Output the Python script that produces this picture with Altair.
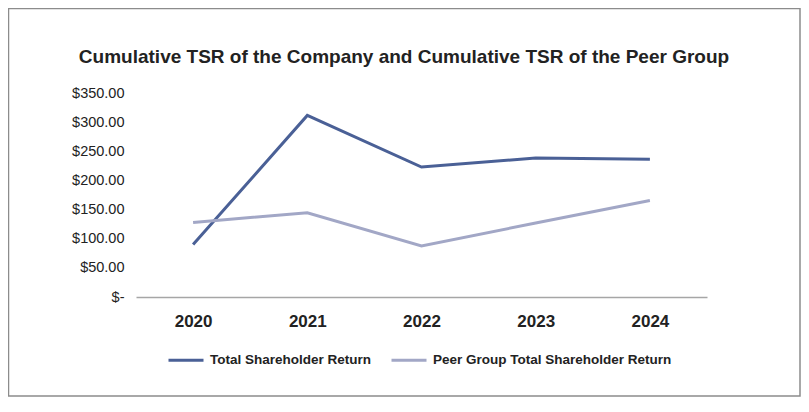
import altair as alt
import pandas as pd

years = ["2020", "2021", "2022", "2023", "2024"]
total_tsr = [90.0, 311.5, 223.0, 238.5, 236.5]
peer_tsr = [128.0, 144.5, 87.5, 127.0, 165.5]
series_names = ["Total Shareholder Return", "Peer Group Total Shareholder Return"]
series_colors = ["#4a6096", "#a2a7c6"]
chart_title = "Cumulative TSR of the Company and Cumulative TSR of the Peer Group"

rows = []
for y, t, p in zip(years, total_tsr, peer_tsr):
    rows.append({"Year": y, "Series": series_names[0], "Value": t})
    rows.append({"Year": y, "Series": series_names[1], "Value": p})
df = pd.DataFrame(rows)

FONT = "Liberation Sans"
W, H = 571, 204

lines = alt.Chart(df).mark_line(strokeWidth=3).encode(
    x=alt.X("Year:N", sort=years, title=None,
            scale=alt.Scale(type="point", padding=0.5),
            axis=alt.Axis(labelAngle=0, labelFont=FONT, labelFontSize=17,
                          labelFontWeight="bold", labelColor="#222222",
                          labelPadding=16, ticks=False, domainColor="#a6a6a6",
                          domainWidth=1.5, grid=False)),
    y=alt.Y("Value:Q", title=None,
            scale=alt.Scale(domain=[0, 350], nice=False),
            axis=alt.Axis(values=[0, 50, 100, 150, 200, 250, 300, 350],
                          labelExpr="datum.value == 0 ? '$-' : '$' + format(datum.value, '.2f')",
                          labelFont=FONT, labelFontSize=14.5, labelColor="#222222",
                          labelPadding=12, ticks=False, domain=False, grid=False)),
    color=alt.Color("Series:N",
                    scale=alt.Scale(domain=series_names, range=series_colors),
                    legend=alt.Legend(title=None, orient="none", direction="horizontal",
                                      legendX=31, legendY=248,
                                      symbolType="stroke", symbolSize=1225,
                                      symbolStrokeWidth=3, labelFont=FONT,
                                      labelFontSize=13.5, labelFontWeight="bold",
                                      labelColor="#222222", labelOffset=5,
                                      columnPadding=13, labelLimit=400)),
)

border = alt.Chart(pd.DataFrame({"b": [0]})).mark_rect(
    fill=None, stroke="#8c8c8c", strokeWidth=1.5
).encode(
    x=alt.value(-127.5), x2=alt.value(664),
    y=alt.value(-84.5), y2=alt.value(303),
)

title = alt.Chart(pd.DataFrame({"t": [chart_title]})).mark_text(
    font=FONT, fontSize=19, fontWeight="bold", color="#222222",
    align="center", baseline="alphabetic"
).encode(
    text="t:N", x=alt.value(268), y=alt.value(-30),
)

chart = alt.layer(border, title, lines).properties(
    width=W, height=H,
    autosize=alt.AutoSizeParams(type="none"),
    padding={"left": 128, "top": 85, "right": 94, "bottom": 104},
).configure_view(stroke=None)

chart.save("out.html", embed_options={"renderer": "svg", "actions": False})
